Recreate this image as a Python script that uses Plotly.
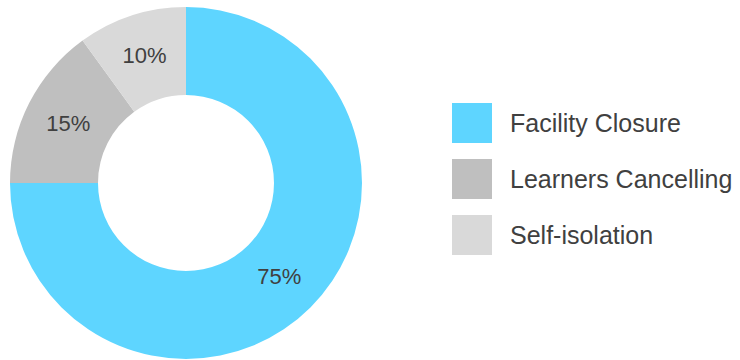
import plotly.graph_objects as go

categories = ["Facility Closure", "Learners Cancelling", "Self-isolation"]
values = [75, 15, 10]
colors = ["#5ED5FF", "#BFBFBF", "#D9D9D9"]

W, H = 740, 360
text_color = "#404040"
font_family = "Liberation Sans, Arial, sans-serif"

fig = go.Figure(go.Pie(
    labels=categories,
    values=values,
    hole=0.5,
    sort=False,
    direction="clockwise",
    rotation=0,
    marker=dict(colors=colors, line=dict(width=0)),
    textinfo="percent",
    texttemplate="%{percent:.0%}",
    textposition="inside",
    insidetextorientation="horizontal",
    textfont=dict(size=22, color=text_color, family=font_family),
    domain=dict(x=[10 / W, 362 / W], y=[1 / H, 353 / H]),
    showlegend=False,
    hoverinfo="label+percent",
))

# custom legend (large squares) built from the categories list
shapes = []
annotations = []
top0, step, size = 103, 56, 40
for i, (cat, col) in enumerate(zip(categories, colors)):
    top = top0 + i * step
    shapes.append(dict(type="rect", xref="paper", yref="paper",
                       x0=452 / W, x1=492 / W,
                       y0=1 - (top + size) / H, y1=1 - top / H,
                       fillcolor=col, line=dict(width=0)))
    annotations.append(dict(xref="paper", yref="paper",
                            x=508 / W, y=1 - (top + size / 2) / H,
                            xanchor="left", yanchor="middle",
                            text=cat, showarrow=False,
                            font=dict(size=25, color=text_color, family=font_family)))

fig.update_layout(
    width=W, height=H,
    margin=dict(l=0, r=0, t=0, b=0),
    paper_bgcolor="white",
    plot_bgcolor="white",
    shapes=shapes,
    annotations=annotations,
    uniformtext=dict(minsize=10, mode="show"),
)

fig.write_html("out.html")
